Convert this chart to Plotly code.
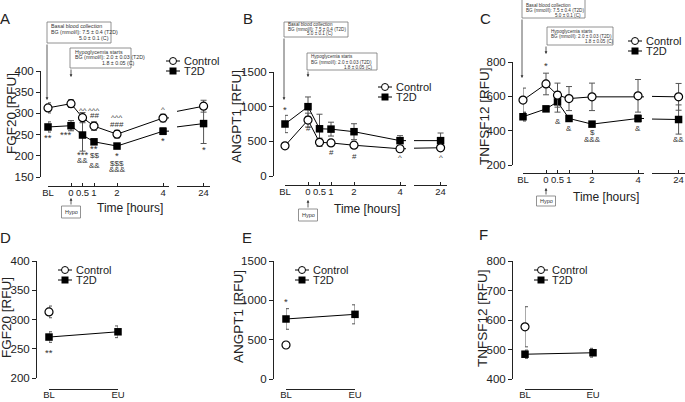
import plotly.graph_objects as go

W, H = 685, 402


def X(px):
    return px / W


def Y(py):
    return 1 - py / H


# ---------------- data ----------------
time_labels = ["BL", "0", "0.5", "1", "2", "4", "24"]
time_hours = [-1, 0, 0.5, 1, 2, 4, 24]  # BL drawn one hour before hypoglycaemia start

fgf20_control = [313, 323, 290, 270, 251, 289, 317]
fgf20_control_sem = [12, 9, 12, 10, 9, 9, 14]
fgf20_t2d = [268, 271, 249, 233, 223, 258, 276]
fgf20_t2d_sem = [12, 12, 38, 6, 6, 8, 47]

angpt1_control = [435, 806, 486, 477, 444, 393, 407]
angpt1_control_sem = [20, 100, 60, 40, 40, 25, 30]
angpt1_t2d = [750, 1000, 681, 676, 639, 510, 510]
angpt1_t2d_sem = [125, 140, 210, 100, 115, 72, 110]

tnfsf12_control = [578, 672, 607, 587, 597, 603, 597]
tnfsf12_control_sem = [70, 63, 70, 70, 80, 95, 78]
tnfsf12_t2d = [481, 527, 568, 471, 438, 471, 465]
tnfsf12_t2d_sem = [25, 15, 60, 15, 12, 20, 85]

clamp_labels = ["BL", "EU"]
fgf20_clamp_control = [313]
fgf20_clamp_control_sem = [10]
fgf20_clamp_t2d = [270, 279]
fgf20_clamp_t2d_sem = [9, 10]
angpt1_clamp_control = [432]
angpt1_clamp_control_sem = [15]
angpt1_clamp_t2d = [763, 822]
angpt1_clamp_t2d_sem = [131, 121]
tnfsf12_clamp_control = [577]
tnfsf12_clamp_control_sem = [68]
tnfsf12_clamp_t2d = [484, 489]
tnfsf12_clamp_t2d_sem = [14, 15]

series_names = ["Control", "T2D"]

# significance marks: (time index, y value, text)
fgf20_marks = [(0, 244, "**"), (1, 251, "***"), (2, 308, "^^"), (2, 204, "***"), (2, 190, "&&"),
               (3, 308, "^^^"), (3, 294, "##"), (3, 218, "**"), (3, 200, "$$"), (3, 178, "&&"),
               (4, 291, "^^^"), (4, 275, "###"), (4, 200, "*"), (4, 183, "$$$"), (4, 167, "&&&"),
               (5, 310, "^"), (5, 235, "*"), (6, 216, "*")]
angpt1_marks = [(0, 966, "*"), (1, 690, "#"), (3, 332, "#"), (4, 288, "#"), (5, 260, "^"), (6, 260, "^")]
tnfsf12_marks = [(1, 777, "*"), (2, 456, "&"), (3, 415, "&"), (4, 392, "$"), (4, 346, "&&&"),
                 (5, 415, "&"), (6, 346, "&&")]
fgf20_clamp_marks = [(0, 243, "**")]
angpt1_clamp_marks = [(0, 979, "*")]

box1_lines = ["Basal blood collection", "BG (mmol/l): 7.5 \u00b1 0.4 (T2D)", "5.0 \u00b1 0.1 (C)"]
box2_lines = ["Hypoglycemia starts", "BG (mmol/l): 2.0 \u00b1 0.03 (T2D)", "1.8 \u00b1 0.05 (C)"]

# ---------------- styling ----------------
FONT = "Liberation Sans, Arial, sans-serif"
INK = "#222222"
ERR = "#555555"
CTRL_MARKER = dict(symbol="circle", size=8, color="white", line=dict(color="black", width=1.2))
T2D_MARKER = dict(symbol="square", size=7.5, color="black", line=dict(color="black", width=0))

fig = go.Figure()
layout = dict(
    width=W, height=H, margin=dict(l=0, r=0, t=0, b=0, pad=0, autoexpand=False),
    paper_bgcolor="white", plot_bgcolor="white", showlegend=False,
    font=dict(family=FONT, color=INK),
)
annotations = []
shapes = []


def yaxis_cfg(xpx, top, bot, rng, ticks):
    return dict(anchor="free", position=X(xpx), domain=[Y(bot), Y(top)], range=rng,
                tickvals=ticks, ticks="outside", ticklen=4, tickwidth=1, tickcolor=INK,
                showline=True, linecolor=INK, linewidth=1, showgrid=False, zeroline=False,
                tickfont=dict(size=11.5, color=INK), fixedrange=True, automargin=False)


def xaxis_cfg(linepy, left, right, rng, tickvals, ticktext, cat=False):
    d = dict(anchor="free", position=Y(linepy), domain=[X(left), X(right)], range=rng,
             ticks="inside", ticklen=3, tickwidth=1, tickcolor=INK, tickangle=0,
             showline=True, linecolor=INK, linewidth=1, showgrid=False, zeroline=False,
             tickfont=dict(size=9.5, color=INK), fixedrange=True, automargin=False,
             ticklabeloverflow="allow", ticklabelstandoff=-2)
    if cat:
        d["type"] = "category"
    else:
        d["tickvals"] = tickvals
        d["ticktext"] = ticktext
    return d


def add_series(xs, ys, xa, ya):
    fig.add_trace(go.Scatter(x=xs, y=ys, mode="lines", line=dict(color="black", width=1),
                             xaxis=xa, yaxis=ya, hoverinfo="skip", showlegend=False))


def add_points(xs, ys, sem, marker, xa, ya):
    fig.add_trace(go.Scatter(x=xs, y=ys, mode="markers", marker=marker, cliponaxis=False,
                             error_y=dict(type="data", array=sem, color=ERR, thickness=1, width=3),
                             xaxis=xa, yaxis=ya, showlegend=False))


def legend(cx, y1, y2):
    for yy, name, kind in [(y1, series_names[0], "c"), (y2, series_names[1], "s")]:
        shapes.append(dict(type="line", xref="paper", yref="paper", x0=X(cx - 7), x1=X(cx + 7),
                           y0=Y(yy), y1=Y(yy), line=dict(color="black", width=1)))
        if kind == "c":
            shapes.append(dict(type="circle", xref="paper", yref="paper", x0=X(cx - 3.5), x1=X(cx + 3.5),
                               y0=Y(yy + 3.5), y1=Y(yy - 3.5), fillcolor="white",
                               line=dict(color="black", width=1)))
        else:
            shapes.append(dict(type="rect", xref="paper", yref="paper", x0=X(cx - 3.5), x1=X(cx + 3.5),
                               y0=Y(yy + 3.5), y1=Y(yy - 3.5), fillcolor="black",
                               line=dict(color="black", width=0)))
        annotations.append(dict(x=X(cx + 9), y=Y(yy), xref="paper", yref="paper", text=name,
                                showarrow=False, xanchor="left", yanchor="middle",
                                font=dict(size=11, color=INK)))


def text(xpx, ypx, s, size, angle=0, anchor="center", color=INK):
    annotations.append(dict(x=X(xpx), y=Y(ypx), xref="paper", yref="paper", text=s, showarrow=False,
                            xanchor=anchor, yanchor="middle", textangle=angle,
                            font=dict(size=size, color=color)))


def info_box(x0, y0, x1, y1, lines, line_y, x_text, x_indent, size):
    shapes.append(dict(type="rect", xref="paper", yref="paper", x0=X(x0), x1=X(x1), y0=Y(y1), y1=Y(y0),
                       line=dict(color="#777777", width=0.8), fillcolor="white"))
    for i, s in enumerate(lines):
        text(x_text if i < 2 else x_indent, line_y[i], s, size, anchor="left", color="#333333")


def arrow(xpx, y_from, y_to):
    annotations.append(dict(x=X(xpx), y=Y(y_to), xref="paper", yref="paper", text="", showarrow=True,
                            ax=0, ay=-(y_to - y_from), axref="pixel", ayref="pixel",
                            arrowhead=2, arrowsize=0.7, arrowwidth=0.8, arrowcolor="#333333"))


def mark_font(s):
    return dict(size=9.5 if s.startswith("*") else 8, color="#333333")


# ---------------- top panels ----------------
top_panels = [
    dict(ctrl=fgf20_control, ctrl_sem=fgf20_control_sem, t2d=fgf20_t2d, t2d_sem=fgf20_t2d_sem,
         marks=fgf20_marks, yx=40, ytop=71, ybot=177, yr=[150, 400], yt=[150, 200, 250, 300, 350, 400],
         x1=(48, 169), x2=(177, 210), xline=186, title="FGF20 [RFU]", tpos=(12, 114), letter="A",
         lpos=(5, 19), leg=(173, 61, 71), box1=(47, 22, 111, 43), b1y=(25.5, 32, 38), b1x=(49, 77),
         box2=(70, 48, 131, 68), b2y=(52, 57.5, 63), b2x=(73, 100), fs=5.3, arr1=(47, 43, 100),
         arr2=(71, 68, 77), hypo=(71, 206, 218, 198), time=(130, 208)),
    dict(ctrl=angpt1_control, ctrl_sem=angpt1_control_sem, t2d=angpt1_t2d, t2d_sem=angpt1_t2d_sem,
         marks=angpt1_marks, yx=273, ytop=72, ybot=176, yr=[0, 1500], yt=[0, 500, 1000, 1500],
         x1=(285, 406), x2=(414, 447), xline=185, title="ANGPT1 [RFU]", tpos=(236, 117), letter="B",
         lpos=(248, 19), leg=(385, 87, 97), box1=(284, 22, 348, 37), b1y=(24.5, 29.5, 34), b1x=(286, 305),
         box2=(307, 53, 377, 70), b2y=(57, 62.5, 67.5), b2x=(309, 342), fs=4.6, arr1=(284, 37, 100),
         arr2=(308, 70, 77), hypo=(308, 209, 221, 200), time=(367, 209)),
    dict(ctrl=tnfsf12_control, ctrl_sem=tnfsf12_control_sem, t2d=tnfsf12_t2d, t2d_sem=tnfsf12_t2d_sem,
         marks=tnfsf12_marks, yx=512, ytop=62, ybot=165, yr=[200, 800], yt=[200, 400, 600, 800],
         x1=(523, 644), x2=(652, 685), xline=173, title="TNFSF12 [RFU]", tpos=(484, 116), letter="C",
         lpos=(485, 19), leg=(635, 41, 51), box1=(522, -1, 585, 18), b1y=(5, 10.5, 15.5), b1x=(524, 553),
         box2=(547, 27, 613, 45), b2y=(31, 36.5, 41.5), b2x=(549, 583), fs=4.6, arr1=(522, 18, 78),
         arr2=(546, 45, 54), hypo=(546, 196, 206, 188), time=(606, 197)),
]

x1_range = [-1, 4.26]
x2_range = [15.3, 26.1]
ax_i = 1
for p_i, p in enumerate(top_panels):
    ya = "y" if p_i == 0 else f"y{p_i + 1}"
    xa1 = "x" if ax_i == 1 else f"x{ax_i}"
    xa2 = f"x{ax_i + 1}"
    layout["yaxis" if p_i == 0 else f"yaxis{p_i + 1}"] = yaxis_cfg(p["yx"], p["ytop"], p["ybot"], p["yr"], p["yt"])
    layout["xaxis" if ax_i == 1 else f"xaxis{ax_i}"] = xaxis_cfg(
        p["xline"], p["x1"][0], p["x1"][1], x1_range, time_hours[:6] + [x1_range[1]], time_labels[:6] + [""])
    layout[f"xaxis{ax_i + 1}"] = xaxis_cfg(
        p["xline"], p["x2"][0], p["x2"][1], x2_range, [x2_range[0], time_hours[6]], ["", time_labels[6]])
    for xa in (xa1, xa2):
        add_series(time_hours, p["t2d"], xa, ya)
        add_series(time_hours, p["ctrl"], xa, ya)
    add_points(time_hours[:6], p["t2d"][:6], p["t2d_sem"][:6], T2D_MARKER, xa1, ya)
    add_points(time_hours[6:], p["t2d"][6:], p["t2d_sem"][6:], T2D_MARKER, xa2, ya)
    add_points(time_hours[:6], p["ctrl"][:6], p["ctrl_sem"][:6], CTRL_MARKER, xa1, ya)
    add_points(time_hours[6:], p["ctrl"][6:], p["ctrl_sem"][6:], CTRL_MARKER, xa2, ya)
    for idx, yv, s in p["marks"]:
        xv = time_hours[idx]
        xs = 0
        if p_i == 0 and idx == 1:
            xs = -6
        annotations.append(dict(x=xv, y=yv, xref=xa1 if idx < 6 else xa2, yref=ya, text=s,
                                showarrow=False, xshift=xs, font=mark_font(s)))
    legend(*p["leg"])
    text(p["tpos"][0], p["tpos"][1], p["title"], 13.5, angle=-90)
    text(p["lpos"][0], p["lpos"][1], p["letter"], 15)
    info_box(*p["box1"], box1_lines, p["b1y"], p["b1x"][0], p["b1x"][1], p["fs"])
    info_box(*p["box2"], box2_lines, p["b2y"], p["b2x"][0], p["b2x"][1], p["fs"])
    arrow(*p["arr1"])
    arrow(*p["arr2"])
    hx, hy0, hy1, htip = p["hypo"]
    shapes.append(dict(type="rect", xref="paper", yref="paper", x0=X(hx - 9.5), x1=X(hx + 9.5),
                       y0=Y(hy1), y1=Y(hy0), line=dict(color="#777777", width=0.8), fillcolor="white"))
    text(hx, (hy0 + hy1) / 2, "Hypo", 5.5, color="#333333")
    arrow(hx, hy0, htip)
    text(p["time"][0], p["time"][1], "Time [hours]", 12)
    ax_i += 2

# ---------------- bottom panels ----------------
bottom_panels = [
    dict(ctrl=fgf20_clamp_control, ctrl_sem=fgf20_clamp_control_sem, t2d=fgf20_clamp_t2d,
         t2d_sem=fgf20_clamp_t2d_sem, marks=fgf20_clamp_marks, yx=36, ytop=261, ybot=378, yr=[200, 400],
         yt=[200, 250, 300, 350, 400], xd=(49, 118), title="FGF20 [RFU]", tpos=(6, 318), letter="D",
         lpos=(5, 237), leg=(65, 270, 280)),
    dict(ctrl=angpt1_clamp_control, ctrl_sem=angpt1_clamp_control_sem, t2d=angpt1_clamp_t2d,
         t2d_sem=angpt1_clamp_t2d_sem, marks=angpt1_clamp_marks, yx=273, ytop=261, ybot=379, yr=[0, 1500],
         yt=[0, 500, 1000, 1500], xd=(286, 355), title="ANGPT1 [RFU]", tpos=(238, 317), letter="E",
         lpos=(247, 237), leg=(302, 270, 280)),
    dict(ctrl=tnfsf12_clamp_control, ctrl_sem=tnfsf12_clamp_control_sem, t2d=tnfsf12_clamp_t2d,
         t2d_sem=tnfsf12_clamp_t2d_sem, marks=[], yx=512, ytop=261, ybot=379, yr=[400, 800],
         yt=[400, 500, 600, 700, 800], xd=(525, 593), title="TNFSF12 [RFU]", tpos=(482, 318), letter="F",
         lpos=(483, 235), leg=(541, 270, 280)),
]

for b_i, p in enumerate(bottom_panels):
    yn = 4 + b_i
    ya = f"y{yn}"
    xa = f"x{ax_i}"
    layout[f"yaxis{yn}"] = yaxis_cfg(p["yx"], p["ytop"], p["ybot"], p["yr"], p["yt"])
    xcfg = xaxis_cfg(389, p["xd"][0], p["xd"][1], [0, 1], None, None, cat=True)
    xcfg["ticklabelstandoff"] = -3
    xcfg["categoryarray"] = clamp_labels
    xcfg["categoryorder"] = "array"
    layout[f"xaxis{ax_i}"] = xcfg
    add_series(clamp_labels, p["t2d"], xa, ya)
    add_points(clamp_labels, p["t2d"], p["t2d_sem"], T2D_MARKER, xa, ya)
    add_points(clamp_labels[:1], p["ctrl"], p["ctrl_sem"], CTRL_MARKER, xa, ya)
    for idx, yv, s in p["marks"]:
        annotations.append(dict(x=clamp_labels[idx], y=yv, xref=xa, yref=ya, text=s, showarrow=False,
                                font=mark_font(s)))
    legend(*p["leg"])
    text(p["tpos"][0], p["tpos"][1], p["title"], 13.5, angle=-90)
    text(p["lpos"][0], p["lpos"][1], p["letter"], 15)
    ax_i += 1

layout["annotations"] = annotations
layout["shapes"] = shapes
fig.update_layout(**layout)
fig.write_html("out.html", config={"displayModeBar": False},
               post_script="document.body.style.margin='0';document.body.style.overflow='hidden';")
